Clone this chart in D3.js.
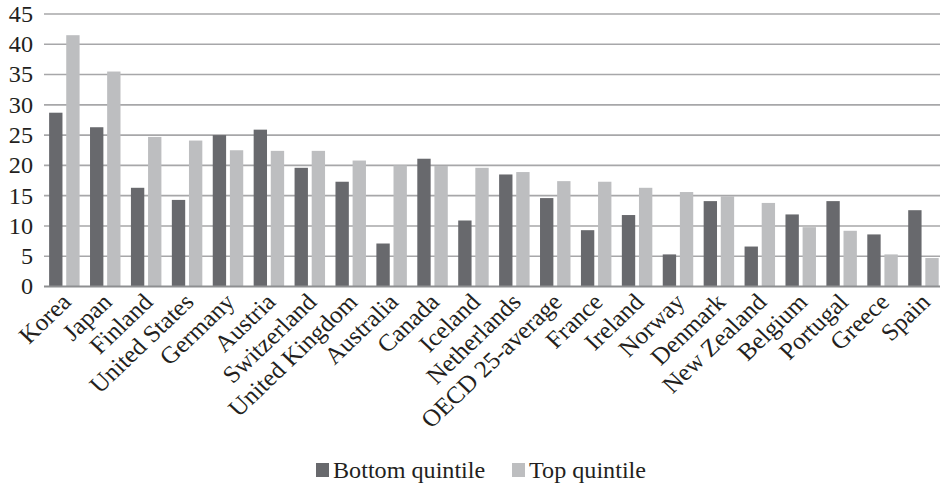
<!DOCTYPE html>
<html>
<head>
<meta charset="utf-8">
<script src="https://cdn.jsdelivr.net/npm/d3@7/dist/d3.min.js"></script>
<style>
  html, body { margin: 0; padding: 0; background: #fff; }
  svg text { font-family: "Liberation Serif", "Times New Roman", serif; fill: #231f20; }
</style>
</head>
<body>
<svg id="chart" width="940" height="486"></svg>
<script>
// Share of students, bottom vs top quintile, by country
const categories = ["Korea", "Japan", "Finland", "United States", "Germany", "Austria",
  "Switzerland", "United Kingdom", "Australia", "Canada", "Iceland", "Netherlands",
  "OECD 25-average", "France", "Ireland", "Norway", "Denmark", "New Zealand",
  "Belgium", "Portugal", "Greece", "Spain"];
const bottomQuintile = [28.7, 26.3, 16.3, 14.3, 25.0, 25.9, 19.6, 17.3, 7.1, 21.1, 10.9, 18.5,
  14.6, 9.3, 11.8, 5.3, 14.1, 6.6, 11.9, 14.1, 8.6, 12.6];
const topQuintile = [41.5, 35.5, 24.7, 24.1, 22.5, 22.4, 22.4, 20.8, 20.0, 19.9, 19.6, 18.9,
  17.4, 17.3, 16.3, 15.6, 14.9, 13.8, 9.8, 9.2, 5.3, 4.7];
const yTicks = [0, 5, 10, 15, 20, 25, 30, 35, 40, 45];
const seriesNames = ["Bottom quintile", "Top quintile"];
const seriesColors = ["#68696d", "#bdbec0"];

const svg = d3.select("#chart");
const plotLeft = 44, plotRight = 944, plotTop = 14, plotBottom = 286.5;
const fontSize = 23, labelSize = 24, widen = 1.05;   // text is set slightly wide

const x0 = d3.scaleBand().domain(categories).range([plotLeft, plotRight]).padding(0);
const x1 = d3.scaleBand().domain([0, 1])
  .range([x0.bandwidth() * 0.125, x0.bandwidth() * 0.87]).paddingInner(0.22);
const y = d3.scaleLinear().domain([0, 45]).range([plotBottom, plotTop]);

// horizontal gridlines
svg.append("g").selectAll("line").data(yTicks.filter(d => d > 0)).join("line")
  .attr("x1", plotLeft).attr("x2", plotRight)
  .attr("y1", d => y(d)).attr("y2", d => y(d))
  .attr("stroke", "#a7a7a9").attr("stroke-width", 1.6);

// y axis tick labels
const yAxis = d3.axisLeft(y).tickValues(yTicks).tickSize(0).tickPadding(0);
const gy = svg.append("g").attr("transform", `translate(${plotLeft},0)`).call(yAxis);
gy.select(".domain").remove();
gy.selectAll("text")
  .attr("x", 0)
  .attr("transform", `translate(-11,0) scale(${widen},1)`)
  .attr("font-size", fontSize).attr("font-family", null).attr("fill", "#231f20");
gy.attr("font-family", null);

// bars
const groups = svg.append("g").selectAll("g").data(categories).join("g")
  .attr("transform", d => `translate(${x0(d)},0)`);
groups.selectAll("rect")
  .data((d, i) => [bottomQuintile[i], topQuintile[i]])
  .join("rect")
  .attr("x", (d, j) => x1(j))
  .attr("width", x1.bandwidth())
  .attr("y", d => y(d))
  .attr("height", d => y(0) - y(d))
  .attr("fill", (d, j) => seriesColors[j]);

// baseline
svg.append("line").attr("x1", plotLeft).attr("x2", plotRight)
  .attr("y1", y(0)).attr("y2", y(0))
  .attr("stroke", "#8e8f91").attr("stroke-width", 2);

// rotated category labels, anchored at the end of their baseline
svg.append("g").selectAll("text").data(categories).join("text")
  .attr("transform", d => `translate(${x0(d) + x0.bandwidth() / 2 + 8},${plotBottom + 17}) scale(${widen},1) rotate(-45)`)
  .attr("text-anchor", "end")
  .attr("font-size", labelSize)
  .text(d => d);

// legend
const legend = svg.append("g");
const legendItems = [{ x: 316 }, { x: 512 }];
legendItems.forEach((it, i) => {
  legend.append("rect").attr("x", it.x).attr("y", 463).attr("width", 13).attr("height", 14)
    .attr("fill", seriesColors[i]);
  legend.append("text")
    .attr("transform", `translate(${it.x + 17},478) scale(${widen},1)`)
    .attr("font-size", fontSize).text(seriesNames[i]);
});
</script>
</body>
</html>
